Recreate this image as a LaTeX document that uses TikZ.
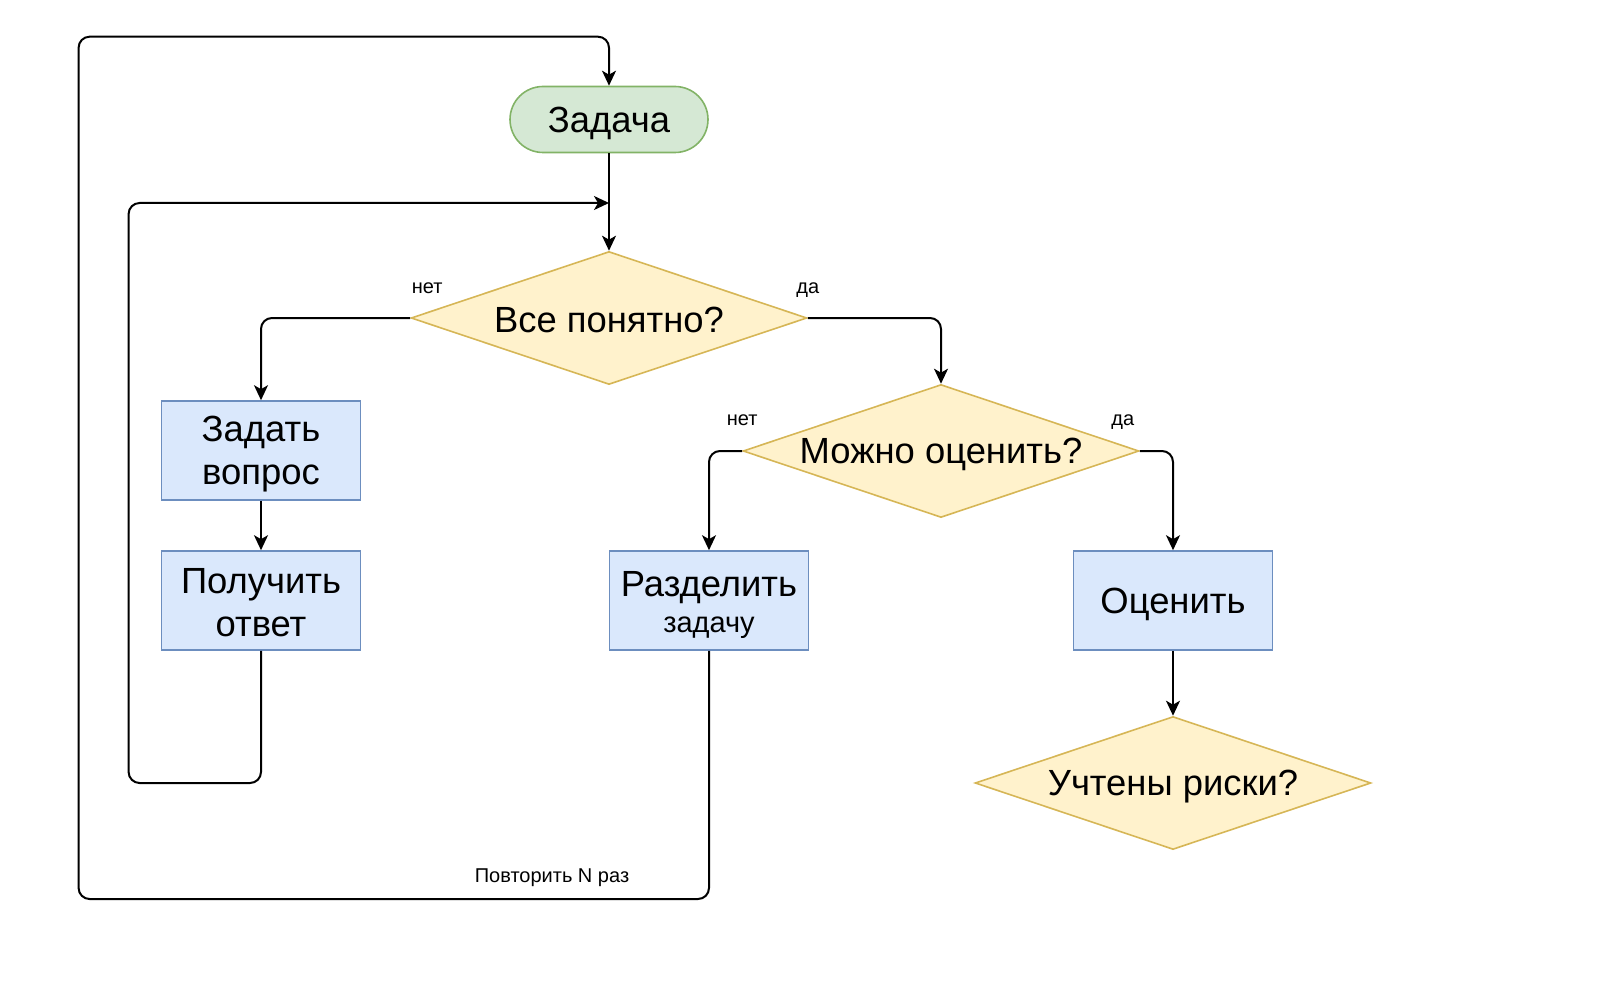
\documentclass[tikz,border=0pt]{standalone}
\usepackage{fontspec}
\setmainfont{Liberation Sans}
\usetikzlibrary{shapes.geometric,shapes.misc,arrows.meta,calc}
\definecolor{gfill}{HTML}{D5E8D4}\definecolor{gline}{HTML}{82B366}
\definecolor{yfill}{HTML}{FFF2CC}\definecolor{yline}{HTML}{D6B656}
\definecolor{bfill}{HTML}{DAE8FC}\definecolor{bline}{HTML}{6C8EBF}
\newcommand\bigstrut{\rule[-2.1pt]{0pt}{18.7pt}}
\tikzset{
  bigfont/.style={font=\fontsize{18.2}{21.5}\selectfont},
  startbox/.style={rounded rectangle, draw=gline, fill=gfill, line width=0.8pt, minimum width=99pt, minimum height=33pt, inner sep=0pt},
  actbox/.style={rectangle, draw=bline, fill=bfill, line width=0.8pt, minimum width=99.5pt, minimum height=49.5pt, inner sep=0pt},
  decbox/.style={diamond, draw=yline, fill=yfill, line width=0.8pt, minimum width=198pt, minimum height=66.5pt, inner sep=0pt, shape aspect=3},
  boxtext/.style={bigfont, inner sep=0pt, align=center},
  lbl/.style={font=\fontsize{10}{12}\selectfont, inner sep=0pt, text height=7pt, text depth=1.8pt},
  arr/.style={line width=1pt, -{Stealth[length=7.5pt,width=7pt,inset=2pt]}},
  loop/.style={arr, rounded corners=5.5pt},
}
\begin{document}
\begin{tikzpicture}[x=0.5pt,y=-0.5pt]
\useasboundingbox (0,0) rectangle (1600,1000);
\node[startbox] (t) at (609,119.5) {};
\node[boxtext] (tt) at (t.center) {\bigstrut Задача};
\node[decbox] (d1) at (609,318) {};
\node[boxtext] (d1t) at (d1.center) {\bigstrut Все понятно?};
\node[decbox] (d2) at (941,451) {};
\node[boxtext] (d2t) at (d2.center) {\bigstrut Можно оценить?};
\node[decbox] (d3) at (1173,783) {};
\node[boxtext] (d3t) at (d3.center) {\bigstrut Учтены риски?};
\node[actbox] (b1) at (261,450.5) {};
\node[boxtext] (b1t) at (b1.center) {\bigstrut Задать\\\bigstrut вопрос};
\node[actbox] (b2) at (261,600.5) {};
\node[boxtext] (b2t) at (b2.center) {\bigstrut Получить\\\bigstrut ответ};
\node[actbox] (b3) at (709,600.5) {};
\node[boxtext] (b3t) at (b3.center) {\bigstrut Разделить\\[-3.5pt]{\fontsize{14.5}{17}\selectfont\bigstrut задачу}};
\node[actbox] (b4) at (1173,600.5) {};
\node[boxtext] (b4t) at (b4.center) {\bigstrut Оценить};

\node[lbl] (l1) at ($(d1.west)+(17,-30)$) {нет};
\node[lbl] (l2) at ($(d1.east)+(0,-30)$) {да};
\node[lbl] (l3) at ($(d2.west)+(0,-31)$) {нет};
\node[lbl] (l4) at ($(d2.east)+(-17,-31)$) {да};
\node[lbl] (l5) at (552,877.5) {Повторить N раз};

\coordinate (j1) at (609,203);
\coordinate (ib) at (128.6,783);
\coordinate (it) at (128.6,203);
\coordinate (ob) at (78.6,899);
\coordinate (ot) at (78.6,36.7);

\draw[arr] (t.south) -- (d1.north);
\draw[loop] (d1.west) -| (b1.north);
\draw[loop] (d1.east) -| (d2.north);
\draw[loop] (d2.west) -| (b3.north);
\draw[loop] (d2.east) -| (b4.north);
\draw[arr] (b1.south) -- (b2.north);
\draw[arr] (b4.south) -- (d3.north);
\draw[loop] (b2.south) |- (ib) -- (it) -- (j1);
\draw[loop] (b3.south) |- (ob) -- (ot) -| (t.north);
\end{tikzpicture}
\end{document}
